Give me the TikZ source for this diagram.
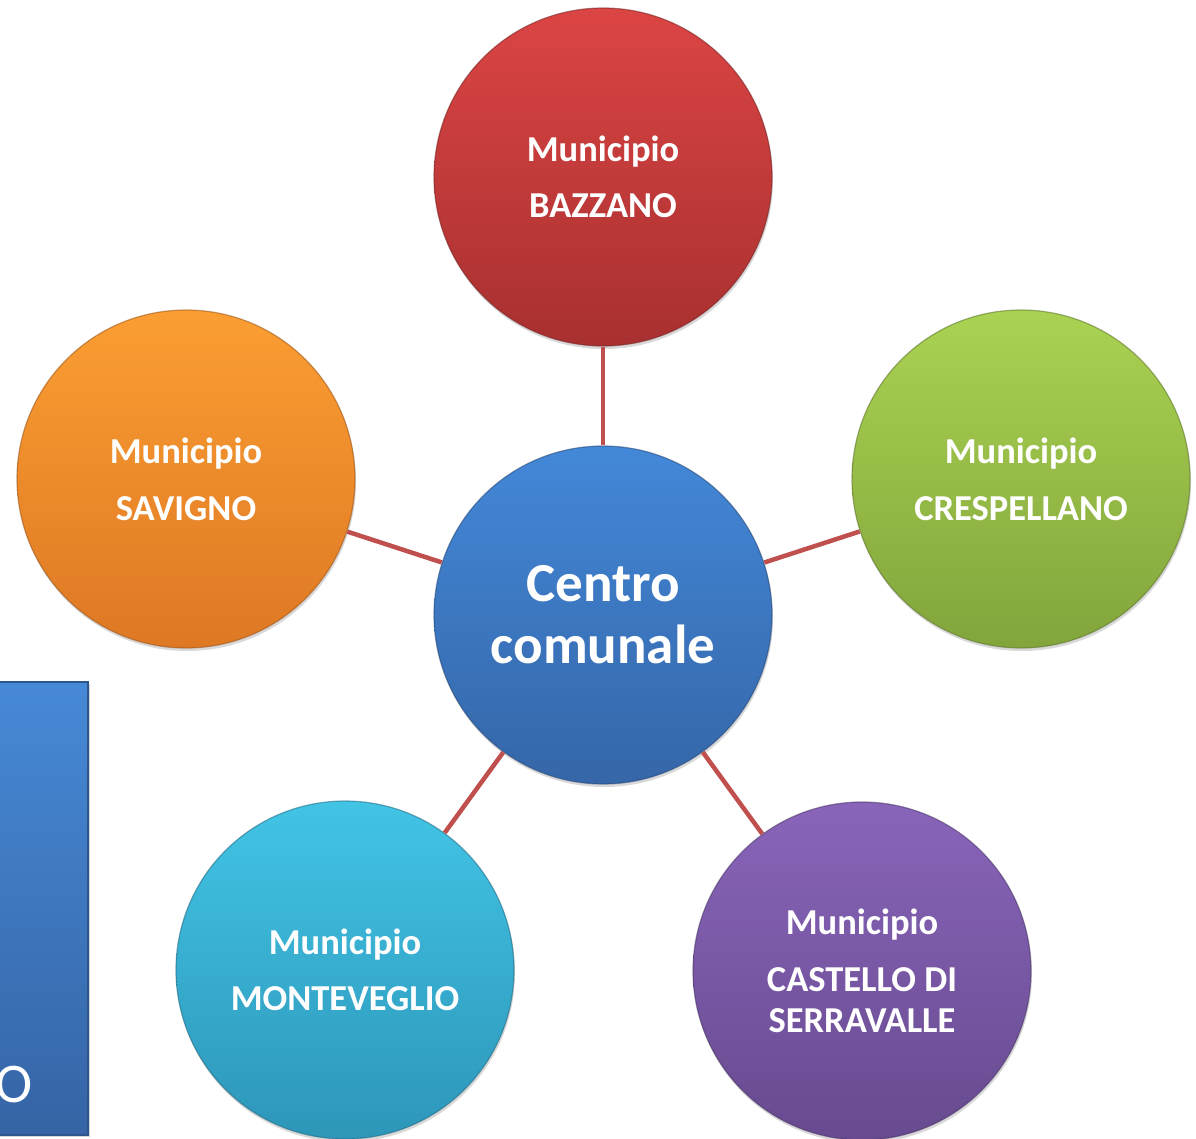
\documentclass[tikz,border=0pt]{standalone}
\usepackage{fontspec}
\setmainfont{Carlito}
\usetikzlibrary{shadows}
\definecolor{linkred}{RGB}{192,80,77}
\definecolor{blueT}{RGB}{67,136,216}
\definecolor{blueB}{RGB}{53,102,168}
\definecolor{redT}{RGB}{219,69,68}
\definecolor{redB}{RGB}{168,48,48}
\definecolor{orT}{RGB}{251,158,50}
\definecolor{orB}{RGB}{222,120,36}
\definecolor{grT}{RGB}{170,210,82}
\definecolor{grB}{RGB}{130,165,60}
\definecolor{cyT}{RGB}{66,196,229}
\definecolor{cyB}{RGB}{45,150,185}
\definecolor{puT}{RGB}{137,101,186}
\definecolor{puB}{RGB}{103,74,143}
\definecolor{rectT}{RGB}{70,137,214}
\definecolor{rectB}{RGB}{54,100,165}
\begin{document}
\begin{tikzpicture}[x=1pt,y=-1pt,
  bubble/.style={circle, minimum size=338pt, inner sep=0pt, align=center,
    text=white, font=\bfseries\fontsize{36.5}{41}\selectfont,
    draw opacity=0.55, line width=1.2pt,
    drop shadow={shadow xshift=1pt, shadow yshift=-3pt, opacity=0.3}},
  link/.style={draw=linkred, line width=4.5pt}]
\useasboundingbox (0,0) rectangle (1196,1139);
\clip (0,0) rectangle (1196,1139);
% left blue panel
\path[top color=rectT, bottom color=rectB, draw=rectB!85!black, line width=1.2pt,
  drop shadow={shadow xshift=2pt, shadow yshift=-2pt, opacity=0.3}]
  (-20,682) rectangle (88,1135);
\node[anchor=base east, text=white, font=\fontsize{56}{60}\selectfont, inner sep=0pt] (otext) at (33,1102) {O};
% bubbles
\node[bubble, top color=blueT, bottom color=blueB, draw=blueB!70!black, font=\bfseries\fontsize{55}{62}\selectfont] (centro) at (603,615) {Centro\\comunale};
\node[bubble, top color=redT, bottom color=redB, draw=redB!70!black] (bazzano) at (603,177) {Municipio\\[15pt]BAZZANO};
\node[bubble, top color=orT, bottom color=orB, draw=orB!70!black] (savigno) at (186,479) {Municipio\\[16pt]SAVIGNO};
\node[bubble, top color=grT, bottom color=grB, draw=grB!70!black] (crespellano) at (1021,479) {Municipio\\[16pt]CRESPELLANO};
\node[bubble, top color=cyT, bottom color=cyB, draw=cyB!70!black] (monteveglio) at (345,970) {Municipio\\[15pt]MONTEVEGLIO};
\node[bubble, top color=puT, bottom color=puB, draw=puB!70!black] (castello) at (862,971) {Municipio\\[16pt]CASTELLO DI\\SERRAVALLE};
% connectors
\draw[link] (centro) -- (bazzano);
\draw[link] (centro) -- (savigno);
\draw[link] (centro) -- (crespellano);
\draw[link] (centro) -- (monteveglio);
\draw[link] (centro) -- (castello);
\end{tikzpicture}
\end{document}
